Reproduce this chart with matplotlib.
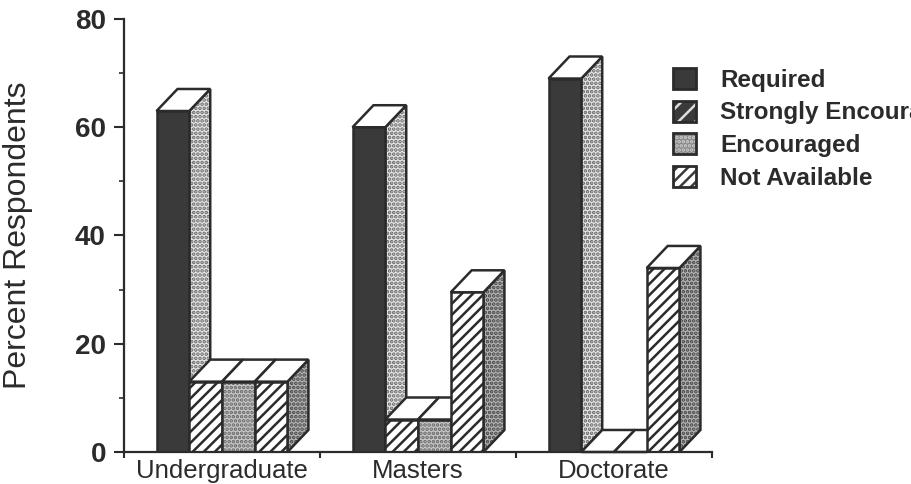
import matplotlib
matplotlib.use("Agg")
import matplotlib.pyplot as plt
from matplotlib.patches import Patch, Polygon
from matplotlib.legend_handler import HandlerTuple

plt.rcParams["font.family"] = ["Liberation Sans", "DejaVu Sans"]
plt.rcParams["hatch.linewidth"] = 1.8

# Survey results, percent of respondents
degrees = ["Undergraduate", "Masters", "Doctorate"]
series_names = ["Required", "Strongly Encouraged", "Encouraged", "Not Available"]
required = [63, 60, 69]
strongly_encouraged = [13, 6, 0]
encouraged = [13, 6, 0]
not_available = [13, 29.5, 34]
y_ticks = [0, 20, 40, 60, 80]

INK = "#2b2b2b"
DARK = "#3a3a3a"
FACE_STYLES = [
    dict(facecolor=DARK, hatch=None, hatch_ink=INK),
    dict(facecolor="white", hatch="///", hatch_ink=INK),
    dict(facecolor="#c8c8c8", hatch="....", hatch_ink="#666666"),
    dict(facecolor="white", hatch="///", hatch_ink=INK),
]

fig = plt.figure(figsize=(9.11, 4.84), dpi=100)
ax = fig.add_axes([124 / 911, 1 - 452 / 484, 588 / 911, 433 / 484])
ax.set_xlim(-0.5, 2.5)
ax.set_ylim(0, 80)

BAR_W = 0.167      # front-face width, in group units
DEPTH_X = 0.107    # oblique depth, horizontal
DEPTH_Y = 4.07     # oblique depth, vertical
LW = 1.8

columns = [required, strongly_encouraged, encouraged, not_available]
order = 10

for g in range(len(degrees)):
    for s, values in enumerate(columns):
        v = values[g]
        left = g - 2 * BAR_W + s * BAR_W
        right = left + BAR_W
        style = FACE_STYLES[s]

        # right-hand side face: pale stipple on the Required columns, darker on the last
        side_fc, side_dots = ("#e6e6e6", "#666666") if s == 0 else ("#b4b4b4", "#444444")
        if v > 0:
            side = [(right, 0), (right + DEPTH_X, DEPTH_Y),
                    (right + DEPTH_X, v + DEPTH_Y), (right, v)]
            ax.add_patch(Polygon(side, closed=True, facecolor=side_fc,
                                 edgecolor=side_dots, hatch="....",
                                 linewidth=0, zorder=order, clip_on=False))
            ax.add_patch(Polygon(side, closed=True, facecolor="none", edgecolor=INK,
                                 linewidth=LW, zorder=order + 0.1, clip_on=False))

        # white top face
        ax.add_patch(Polygon(
            [(left, v), (right, v), (right + DEPTH_X, v + DEPTH_Y),
             (left + DEPTH_X, v + DEPTH_Y)],
            closed=True, facecolor="white", edgecolor=INK,
            linewidth=LW, zorder=order + 0.2, clip_on=False))

        # front face
        if v > 0:
            ax.bar(left, v, width=BAR_W, align="edge",
                   facecolor=style["facecolor"], edgecolor=style["hatch_ink"],
                   hatch=style["hatch"], linewidth=0, zorder=order + 0.3)
            ax.bar(left, v, width=BAR_W, align="edge", facecolor="none",
                   edgecolor=INK, linewidth=LW, zorder=order + 0.4)
        order += 1

# axes furniture
for side in ("top", "right"):
    ax.spines[side].set_visible(False)
for side in ("left", "bottom"):
    ax.spines[side].set_linewidth(1.6)
    ax.spines[side].set_color(INK)
    ax.spines[side].set_zorder(100)

ax.set_yticks(y_ticks)
ax.set_yticks(range(0, 81, 10), minor=True)
ax.tick_params(axis="y", which="major", length=7, width=1.5, color=INK, pad=6)
ax.tick_params(axis="y", which="minor", length=3.6, width=1.2, color=INK)
for lab in ax.get_yticklabels():
    lab.set_fontsize(20)
    lab.set_fontweight("bold")
    lab.set_color(INK)

ax.set_xticks([-0.5, 0.5, 1.5, 2.5])
ax.set_xticklabels([])
ax.set_xticks(range(len(degrees)), minor=True)
ax.set_xticklabels(degrees, minor=True, fontsize=18.5, color=INK)
ax.tick_params(axis="x", which="major", length=4, width=1.5, color=INK, direction="out")
ax.tick_params(axis="x", which="minor", length=0, pad=5)

fig.text(18 / 911, 1 - 235 / 484, "Percent Respondents", rotation=90,
         ha="center", va="center", fontsize=23, color=INK)


def legend_handle(style):
    if style["hatch"] is None:
        body = Patch(facecolor=DARK, edgecolor=DARK, linewidth=0)
    elif style is FACE_STYLES[1]:
        body = Patch(facecolor=DARK, edgecolor="#dddddd", hatch="//", linewidth=0)
    elif style is FACE_STYLES[2]:
        body = Patch(facecolor="#888888", edgecolor="#cccccc", hatch="....", linewidth=0)
    else:
        body = Patch(facecolor="white", edgecolor=DARK, hatch="///", linewidth=0)
    frame = Patch(facecolor="none", edgecolor=INK, linewidth=2.0)
    return (body, frame)


ax.legend(
    [legend_handle(s) for s in FACE_STYLES], series_names,
    handler_map={tuple: HandlerTuple(ndivide=1, pad=0)},
    loc="upper left", bbox_to_anchor=(673 / 911, 1 - 68 / 484),
    bbox_transform=fig.transFigure, frameon=False,
    prop=dict(size=17.5, weight="bold"), labelcolor=INK,
    handlelength=0.95, handleheight=0.95, handletextpad=1.0,
    labelspacing=0.36, borderpad=0, borderaxespad=0)

fig.savefig("out.png", dpi=100)
